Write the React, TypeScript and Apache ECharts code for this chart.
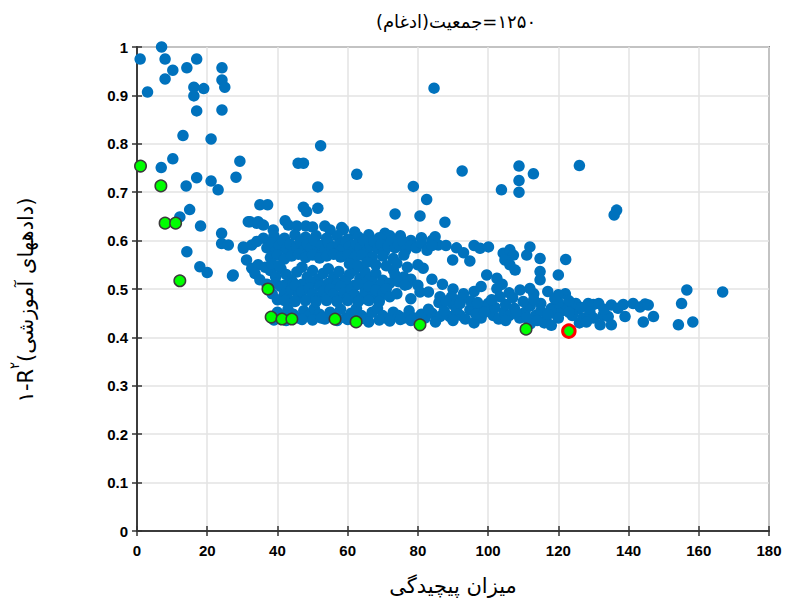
import React, { useEffect, useRef } from "react";
import * as echarts from "echarts";

// Candidate models: [complexity, 1 - R^2 on training data]
const scatteredModels: number[][] = [
  [0.9, 0.975], [7, 1.0], [8, 0.975], [10.2, 0.952], [8, 0.934], [3, 0.907],
  [14.2, 0.957], [17, 0.975], [16.2, 0.917], [16.2, 0.899], [19, 0.914], [17, 0.868],
  [24.2, 0.957], [24.2, 0.932], [25, 0.917], [24.2, 0.87], [13.1, 0.817], [21.1, 0.81],
  [10.2, 0.769], [6.9, 0.751], [17, 0.73], [14, 0.713], [21.1, 0.723], [23.1, 0.705],
  [28.2, 0.731], [29.3, 0.764], [15, 0.664], [12.2, 0.649], [18.1, 0.63], [35, 0.674],
  [37.2, 0.674], [45.9, 0.76], [47.4, 0.76], [52.3, 0.796], [62.6, 0.737], [51.5, 0.711],
  [78.7, 0.712], [82.5, 0.685], [73.5, 0.655], [80.6, 0.651], [87.7, 0.638], [84.6, 0.915],
  [92.6, 0.744], [108.8, 0.754], [108.8, 0.724], [112.9, 0.738], [126, 0.755], [103.8, 0.705],
  [108.8, 0.7], [136.6, 0.663], [135.9, 0.653], [47.4, 0.669], [48.3, 0.66], [51.5, 0.667],
  [24.1, 0.615], [14.2, 0.577], [17.9, 0.546], [20, 0.534], [27.2, 0.527], [24.1, 0.594],
  [26, 0.591], [30.3, 0.587], [31.7, 0.639], [34.1, 0.636],
];

const bandTop: number[][] = [
  [32.2, 0.639], [34.5, 0.639], [36, 0.632], [38.8, 0.622], [42.2, 0.641], [43.1, 0.632],
  [45.5, 0.63], [48.1, 0.63], [50, 0.628], [53.5, 0.63], [55, 0.622], [58.3, 0.627],
  [58.8, 0.623], [62, 0.618], [70.6, 0.615], [70.2, 0.608], [84.9, 0.608], [85.8, 0.591],
  [66, 0.612], [75, 0.61],
  [36, 0.605], [39, 0.61], [42, 0.605], [45, 0.612], [48, 0.607], [51, 0.61],
  [54, 0.605], [57, 0.61], [60, 0.603], [63, 0.608], [66, 0.6], [69, 0.606],
  [72, 0.61], [75, 0.603], [78, 0.6], [81, 0.606], [84, 0.6], [88, 0.59],
  [91, 0.585], [93, 0.575], [96, 0.59],
];

const bandUpper: number[][] = [
  [30.3, 0.584], [32.7, 0.591], [34.1, 0.598], [37, 0.585], [38.5, 0.595], [39.5, 0.578],
  [40.5, 0.59], [41.5, 0.6], [42.5, 0.582], [43.5, 0.593], [44.5, 0.575], [45.5, 0.588],
  [46.5, 0.598], [47.5, 0.58], [48.5, 0.592], [49.5, 0.585], [50.5, 0.6], [51.5, 0.578],
  [52.5, 0.59], [53.5, 0.582], [54.5, 0.596], [55.5, 0.585], [56.5, 0.575], [57.5, 0.592],
  [58.5, 0.583], [59.5, 0.598], [60.5, 0.588], [61.5, 0.578], [62.5, 0.592], [63.5, 0.585],
  [64.5, 0.6], [65.5, 0.58], [66.5, 0.59], [67.5, 0.598], [68.5, 0.583], [69.5, 0.592],
  [70.5, 0.578], [71.5, 0.588], [72.5, 0.6], [73.5, 0.585], [74.5, 0.592], [75.8, 0.598],
  [76.5, 0.58], [78, 0.59], [79.5, 0.585], [81, 0.595], [82.6, 0.58], [84, 0.59],
  [89.9, 0.56], [94.8, 0.558], [97.7, 0.584], [100.1, 0.587], [104.3, 0.574], [106.2, 0.581],
  [107.2, 0.57], [111.9, 0.587], [111, 0.57], [114.8, 0.563], [122.1, 0.561],
  [38, 0.565], [40, 0.57], [42, 0.562], [44, 0.568], [46, 0.572], [48, 0.565],
  [50, 0.57], [52, 0.564], [54, 0.568], [56, 0.572], [58, 0.566], [60, 0.57],
  [62, 0.565], [64, 0.57], [67, 0.566], [70, 0.568], [73, 0.563], [76, 0.57],
];

const bandMiddle: number[][] = [
  [31.2, 0.56], [32.7, 0.543], [34.5, 0.55], [27.4, 0.529], [33.6, 0.532], [35, 0.519],
  [38, 0.538], [39.5, 0.525], [41, 0.542], [42.5, 0.53], [44, 0.518], [45.5, 0.535],
  [47, 0.545], [48.5, 0.525], [50, 0.538], [51.5, 0.52], [53, 0.532], [54.5, 0.542],
  [56, 0.525], [57.5, 0.536], [59, 0.518], [60.5, 0.53], [62, 0.54], [63.5, 0.522],
  [65, 0.535], [66.4, 0.522], [68, 0.532], [70, 0.518], [73, 0.539], [73.5, 0.529],
  [76, 0.525], [78, 0.52], [81.5, 0.543], [99.6, 0.529], [102.5, 0.522], [104.8, 0.56],
  [106.2, 0.55], [107.7, 0.539], [114.8, 0.536], [114.8, 0.519], [120, 0.529],
  [37, 0.51], [39.5, 0.512], [42, 0.508], [44.5, 0.513], [47, 0.51], [49.5, 0.514],
  [52, 0.509], [54.5, 0.512], [57, 0.51], [59.5, 0.514], [62, 0.508], [64.5, 0.512],
  [67, 0.515], [69.5, 0.509], [72, 0.512], [74.5, 0.515], [77, 0.51], [80, 0.508],
  [36.5, 0.545], [38.5, 0.552], [40.5, 0.548], [60.5, 0.552], [63, 0.548], [65.5, 0.555],
  [68, 0.55], [71, 0.548], [74, 0.553], [77, 0.545], [80, 0.55],
  [84, 0.52], [87, 0.51], [90, 0.5], [93, 0.49], [96, 0.495], [98, 0.505],
  [104, 0.51], [106, 0.492], [113, 0.49], [117, 0.495], [122, 0.49],
];

const bandLower: number[][] = [
  [38.5, 0.49], [40, 0.478], [41, 0.505], [42, 0.49], [43, 0.48], [44, 0.498],
  [45, 0.508], [46, 0.485], [47, 0.495], [48, 0.478], [49, 0.502], [50, 0.49],
  [51, 0.48], [52, 0.505], [53, 0.495], [54, 0.482], [55, 0.5], [56, 0.49],
  [57, 0.478], [58, 0.505], [59, 0.492], [60, 0.482], [61, 0.5], [62, 0.488],
  [63, 0.51], [64, 0.48], [65, 0.495], [66, 0.505], [67, 0.485], [68, 0.498],
  [69, 0.48], [70, 0.492], [71, 0.5], [72, 0.484], [74, 0.49], [76.3, 0.508],
  [78, 0.48], [80.6, 0.494], [83, 0.494], [86.3, 0.484], [89.6, 0.484], [92.5, 0.481],
  [102.5, 0.501], [103.4, 0.484], [109.1, 0.498], [111.9, 0.501], [120, 0.488],
  [156.6, 0.498], [166.8, 0.494],
];

const bandBottom: number[][] = [
  [40, 0.452], [41.5, 0.445], [43, 0.458], [44.5, 0.448], [46, 0.44], [47.5, 0.455],
  [49, 0.445], [50.5, 0.46], [52, 0.448], [53.5, 0.438], [55, 0.452], [56.5, 0.445],
  [58, 0.458], [59.5, 0.44], [61, 0.45], [62.5, 0.46], [64, 0.445], [65.5, 0.438],
  [67, 0.452], [68.5, 0.46], [70, 0.445], [71.5, 0.438], [73, 0.452], [74.5, 0.445],
  [76, 0.44], [77.5, 0.455], [79, 0.44], [82, 0.44], [84, 0.45], [86.3, 0.443],
  [89.1, 0.443], [92, 0.446], [94.8, 0.457], [97.3, 0.463], [100.1, 0.457], [101.5, 0.445],
  [103, 0.438], [104.5, 0.452], [106, 0.445], [107.5, 0.46], [109, 0.44], [110.5, 0.452],
  [112, 0.465], [113.5, 0.445], [115, 0.455], [116.5, 0.438], [118, 0.46], [119.5, 0.447],
  [121, 0.455], [122.5, 0.465], [124, 0.445], [125.5, 0.458], [127, 0.44], [128.5, 0.47],
  [130, 0.468], [131.5, 0.47], [132.8, 0.446], [134.2, 0.443], [131.9, 0.426], [135.1, 0.426],
  [135.1, 0.467], [139, 0.443], [141.3, 0.47], [143.3, 0.463], [144.7, 0.469], [145.6, 0.467],
  [144.2, 0.432], [147.1, 0.443], [155.1, 0.47], [154.2, 0.426], [158.3, 0.432],
  [66, 0.432], [72, 0.434], [85, 0.432], [90, 0.435], [96, 0.43], [98, 0.44],
  [112, 0.428], [116, 0.43], [126, 0.43], [118, 0.425],
  [86, 0.472], [90, 0.468], [95, 0.475], [100, 0.47], [105, 0.468], [110, 0.474],
  [115, 0.47], [120, 0.472], [125, 0.47],
  [42, 0.476], [45, 0.474], [48, 0.476], [51, 0.474], [54, 0.476], [57, 0.474],
  [60, 0.476], [63, 0.474], [66, 0.476], [69, 0.474],
  [39, 0.436], [42.5, 0.435], [47, 0.437], [50, 0.436], [52.5, 0.44], [57, 0.435],
  [60, 0.437], [63.5, 0.438], [69, 0.436], [75, 0.437], [78, 0.435], [81, 0.448],
  [83, 0.458], [87.5, 0.455], [91, 0.458], [93.5, 0.438], [96.5, 0.448], [99, 0.452],
  [102, 0.462], [105, 0.435], [108, 0.452], [111, 0.44], [114, 0.435], [117, 0.448],
  [120, 0.44], [123, 0.452], [126.5, 0.462], [129, 0.452], [130, 0.44], [128, 0.432],
  [133, 0.458], [137, 0.46], [138.5, 0.468], [101, 0.478], [107, 0.482], [113, 0.478],
  [119, 0.48], [123, 0.476], [97, 0.472], [92, 0.47], [88, 0.475],
];

// Non-dominated models (front)
const frontModels: number[][] = [
  [1, 0.754], [6.8, 0.713], [8, 0.636], [11, 0.636], [12.2, 0.517], [37.3, 0.5],
  [38.2, 0.442], [41.3, 0.438], [44.1, 0.438], [56.4, 0.438], [62.4, 0.432],
  [80.6, 0.426], [110.8, 0.417],
];

// Selected model
const selectedModel: number[][] = [[123, 0.413]];

const xTicks = { min: 0, max: 180, interval: 20 };
const yTicks = { min: 0, max: 1, interval: 0.1 };

const titleText = "\u202B۱۲۵۰=جمعیت(ادغام)\u202C";
const xAxisName = "میزان پیچیدگی";
const yNameParts = ["۱-R", "۲", "(دادههای آموزشی)"];

const App: React.FC = () => {
  const ref = useRef<HTMLDivElement>(null);

  useEffect(() => {
    if (!ref.current) return;
    const chart = echarts.init(ref.current, undefined, { renderer: "svg" });

    const tickLabel = {
      color: "#000",
      fontFamily: "Liberation Sans, Arial, sans-serif",
      fontWeight: "bold" as const,
      fontSize: 15,
    };
    const persianFont = "DejaVu Sans, Noto Sans, sans-serif";
    const axisLineColor = "#333";

    const blue = {
      type: "scatter" as const,
      symbolSize: 11.5,
      itemStyle: { color: "#0072BD", opacity: 1 },
      silent: true,
    };

    chart.setOption({
      animation: false,
      backgroundColor: "#fff",
      title: {
        text: titleText,
        left: 451,
        textAlign: "center",
        top: 7,
        textStyle: {
          fontFamily: persianFont,
          fontWeight: "normal",
          fontSize: 18,
          color: "#000",
        },
      },
      grid: {
        left: 137,
        right: 23,
        top: 47,
        bottom: 73,
        show: true,
        borderColor: axisLineColor,
        borderWidth: 1.5,
        backgroundColor: "#fff",
      },
      xAxis: [
        {
          type: "value",
          ...xTicks,
          position: "bottom",
          name: xAxisName,
          nameLocation: "middle",
          nameGap: 44,
          nameTextStyle: { fontFamily: persianFont, fontSize: 21, color: "#000" },
          axisLine: { show: true, lineStyle: { color: axisLineColor, width: 1.5 } },
          axisTick: { show: true, inside: true, length: 5, lineStyle: { color: axisLineColor, width: 1.5 } },
          axisLabel: { ...tickLabel, margin: 12 },
          splitLine: { show: true, lineStyle: { color: "#e3e3e3", width: 1.5 } },
        },
        {
          type: "value",
          ...xTicks,
          position: "top",
          axisLine: { show: true, lineStyle: { color: axisLineColor, width: 1.5 } },
          axisTick: { show: true, inside: true, length: 5, lineStyle: { color: axisLineColor, width: 1.5 } },
          axisLabel: { show: false },
          splitLine: { show: false },
        },
      ],
      yAxis: [
        {
          type: "value",
          ...yTicks,
          position: "left",
          axisLine: { show: true, lineStyle: { color: axisLineColor, width: 1.5 } },
          axisTick: { show: true, inside: true, length: 5, lineStyle: { color: axisLineColor, width: 1.5 } },
          axisLabel: {
            ...tickLabel,
            margin: 9,
            formatter: (v: number) => (Math.abs(v - 1) < 1e-9 ? "1" : v === 0 ? "0" : v.toFixed(1)),
          },
          splitLine: { show: true, lineStyle: { color: "#e3e3e3", width: 1.5 } },
        },
        {
          type: "value",
          ...yTicks,
          position: "right",
          axisLine: { show: true, lineStyle: { color: axisLineColor, width: 1.5 } },
          axisTick: { show: true, inside: true, length: 5, lineStyle: { color: axisLineColor, width: 1.5 } },
          axisLabel: { show: false },
          splitLine: { show: false },
        },
      ],
      graphic: [
        {
          type: "text",
          x: 22,
          y: 300,
          rotation: Math.PI / 2,
          style: {
            text: `{a|${yNameParts[0]}}{s|${yNameParts[1]}}{a|${yNameParts[2]}}`,
            rich: {
              a: { fontFamily: persianFont, fontSize: 21, fill: "#000", lineHeight: 28, verticalAlign: "bottom" },
              s: { fontFamily: persianFont, fontSize: 13, fill: "#000", lineHeight: 28, verticalAlign: "top" },
            },
            align: "center",
            verticalAlign: "middle",
          },
        },
      ],
      series: [
        { ...blue, data: scatteredModels },
        { ...blue, data: bandTop },
        { ...blue, data: bandUpper },
        { ...blue, data: bandMiddle },
        { ...blue, data: bandLower },
        { ...blue, data: bandBottom },
        {
          type: "scatter",
          symbolSize: 11.5,
          silent: true,
          data: frontModels,
          itemStyle: { color: "#00FF00", borderColor: "#3a3a3a", borderWidth: 1.5, opacity: 1 },
        },
        {
          type: "scatter",
          symbolSize: 12.5,
          silent: true,
          data: selectedModel,
          itemStyle: { color: "#00FF00", borderColor: "#FF0000", borderWidth: 3, opacity: 1 },
        },
      ],
    });

    return () => chart.dispose();
  }, []);

  return <div ref={ref} style={{ width: 792, height: 604, position: "absolute", left: 0, top: 0 }} />;
};

export default App;
